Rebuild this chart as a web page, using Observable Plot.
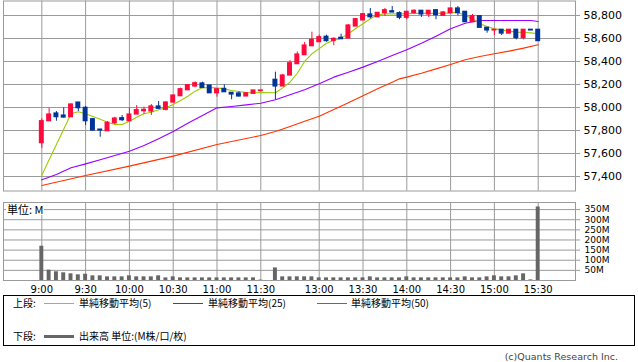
<!DOCTYPE html>
<html><head><meta charset="utf-8">
<script src="https://cdn.jsdelivr.net/npm/d3@7"></script>
<script src="https://cdn.jsdelivr.net/npm/@observablehq/plot@0.6"></script>
<style>
body{margin:0;background:#fff;font-family:"DejaVu Sans",sans-serif;}
#wrap{position:relative;width:638px;height:362px;overflow:hidden;background:#fff;}
#price{position:absolute;left:0;top:0;}
#vol{position:absolute;left:0;top:195px;}
#unit{position:absolute;left:6px;top:203px;font:11px "Noto Sans CJK JP","DejaVu Sans",sans-serif;line-height:12px;background:#fff;padding:0 1px;color:#000;}
#legend{position:absolute;left:3px;top:295px;width:630px;height:49px;border:1px solid #000;font:10px "Noto Sans CJK JP",sans-serif;color:#000;}
#legend span{position:absolute;line-height:14px;white-space:nowrap;}
#legend i{position:absolute;display:block;}
#copy{position:absolute;right:20px;top:351px;font:9.5px "DejaVu Sans",sans-serif;color:#444;white-space:nowrap;}
</style></head>
<body><div id="wrap">
<div id="price"></div>
<div id="vol"></div>
<div id="unit">単位: M</div>
<div id="legend"></div>
<div id="copy">(c)Quants Research Inc.</div>
</div>
<script>
// ---- data ----
const times = ["9:00","9:05","9:10","9:15","9:20","9:25","9:30","9:35","9:40","9:45","9:50","9:55",
"10:00","10:05","10:10","10:15","10:20","10:25","10:30","10:35","10:40","10:45","10:50","10:55",
"11:00","11:05","11:10","11:15","11:20","11:25","11:30",
"12:30","12:35","12:40","12:45","12:50","12:55","13:00","13:05","13:10","13:15","13:20","13:25",
"13:30","13:35","13:40","13:45","13:50","13:55","14:00","14:05","14:10","14:15","14:20","14:25",
"14:30","14:35","14:40","14:45","14:50","14:55","15:00","15:05","15:10","15:15","15:20","15:25","15:30"];
const open = [57690,57881,57948,57930,57916,58043,57997,57898,57808,57794,57863,57907,
57881,57939,57968,57965,58009,57980,58043,58098,58150,58183,58209,58191,
58124,58162,58128,58122,58096,58119,58142,
58241,58183,58278,58377,58455,58533,58568,58615,58580,58606,58600,58704,
58757,58809,58785,58820,58837,58820,58780,58820,58841,58809,58846,58797,
58820,58861,58832,58742,58794,58693,58670,58676,58643,58676,58603,58676,58676];
const high = [57902,57994,57965,57997,58032,58043,58009,57905,57808,57878,57916,57930,
57997,58017,58003,58026,58052,58052,58110,58168,58200,58223,58220,58191,
58159,58197,58128,58136,58124,58148,58148,
58307,58287,58408,58483,58565,58655,58629,58629,58606,58637,58720,58774,
58815,58861,58823,58861,58878,58832,58832,58849,58841,58841,58846,58835,
58861,58878,58832,58809,58794,58693,58676,58676,58676,58676,58676,58676,58676];
const low = [57646,57881,57881,57907,57916,57965,57843,57795,57742,57794,57852,57878,
57881,57939,57939,57930,57989,57970,58043,58098,58150,58171,58171,58124,
58090,58133,58067,58090,58096,58119,58142,
58067,58183,58278,58377,58455,58533,58568,58568,58537,58594,58600,58704,
58757,58771,58785,58791,58826,58763,58763,58812,58783,58783,58763,58797,
58820,58797,58742,58742,58693,58646,58623,58626,58643,58588,58588,58670,58577];
const close = [57881,57939,57916,57913,58026,57994,57881,57800,57800,57867,57904,57890,
57939,57977,57980,58009,57989,58043,58104,58159,58194,58211,58171,58124,
58159,58133,58113,58096,58124,58148,58148,
58183,58278,58385,58461,58539,58589,58611,58577,58597,58594,58713,58768,
58811,58785,58823,58846,58826,58780,58832,58841,58809,58841,58803,58826,
58861,58820,58742,58794,58693,58670,58676,58643,58676,58603,58676,58670,58577];
const volume = [169,51,43,38,33,28,31,23,23,18,18,18,
23,18,18,18,23,13,18,13,13,13,13,13,
13,13,13,13,13,13,2,
62,18,18,18,18,18,13,13,13,13,13,13,
13,18,13,13,13,13,18,13,13,13,13,13,
13,13,18,13,13,18,23,18,18,23,33,3,363];
const ma5 = [57411,57545,57678,57811,57945,57963,57945,57922,57898,57872,57852,57852,
57881,57916,57945,57959,57980,57997,58026,58061,58098,58142,58171,58174,
58171,58162,58148,58139,58130,58128,58130,
58128,58171,58220,58298,58400,58467,58512,58559,58583,58603,58641,58687,
58728,58771,58806,58814,58814,58814,58816,58818,58818,58820,58818,58820,
58823,58829,58800,58771,58728,58704,58684,58675,58664,58655,58652,58649,58641];
const ma25Times = ["9:00","9:10","9:20","9:30","9:40","9:50","10:00","10:10","10:20","10:30","10:40","10:50",
"11:00","11:10","11:20","11:30","12:30","12:40","12:50","13:00","13:10","13:20","13:30","13:40",
"13:50","14:00","14:10","14:20","14:30","14:40","14:50","15:00","15:10","15:20","15:25","15:30"];
const ma25 = [57371,57417,57476,57510,57545,57583,57620,57670,57728,57791,57863,57930,
57997,58009,58023,58037,58067,58110,58154,58206,58264,58307,58351,58400,
58452,58502,58559,58620,58684,58733,58757,58757,58757,58757,58757,58748];
const ma50Times = ["9:00","9:30","10:00","10:30","11:00","11:30","12:30","12:40","12:50","13:00","13:10","13:20",
"13:30","13:40","13:50","13:55","14:00","14:10","14:20","14:30","14:40","14:50","15:00","15:10","15:20","15:30"];
const ma50 = [57322,57409,57490,57577,57678,57757,57791,57835,57881,57924,57983,58041,
58102,58162,58220,58249,58264,58298,58336,58374,58415,58443,58467,58490,58516,58545];
const xTickLabels = ["9:00","9:30","10:00","10:30","11:00","11:30","13:00","13:30","14:00","14:30","15:00","15:30"];
const priceTicks = [57400,57600,57800,58000,58200,58400,58600,58800];
const volTicks = [50,100,150,200,250,300,350];

// ---- helpers ----
const RED = "#ff0a3c", BLUE = "#003399";
function idx(t){const [h,m]=t.split(":").map(Number);const mm=h*60+m;return mm<=690?(mm-540)/5:(mm-750)/5+32;}
const candles = times.map((t,k)=>({i:idx(t),o:open[k],h:high[k],l:low[k],c:close[k],v:volume[k],col:close[k]>=open[k]?RED:BLUE}));
const ma5Data = times.map((t,k)=>({i:idx(t),v:ma5[k]}));
const ma25Data = ma25Times.map((t,k)=>({i:idx(t),v:ma25[k]}));
const ma50Data = ma50Times.map((t,k)=>({i:idx(t),v:ma50[k]}));
const xTicks = xTickLabels.map(idx);
const labelOf = new Map(xTicks.map((v,k)=>[v,xTickLabels[k]]));
const XD = [-5.25, 73.11];
const GRID = "#9a9a9a";

const price = Plot.plot({
  width:638, height:191, marginLeft:3, marginRight:63, marginTop:0.5, marginBottom:0.5,
  x:{domain:XD, axis:null, label:null},
  y:{domain:[57274,58926], axis:null, label:null},
  style:{fontFamily:"DejaVu Sans", fontSize:"11px", color:"#000", background:"#fff", overflow:"visible"},
  marks:[
    Plot.gridX(xTicks, {stroke:GRID, strokeOpacity:1}),
    Plot.gridY(priceTicks, {stroke:GRID, strokeOpacity:1}),
    Plot.frame({stroke:GRID}),
    Plot.axisY(priceTicks, {anchor:"right", label:null, tickSize:4, tickPadding:4, stroke:GRID, tickFormat:d3.format(","), fontSize:11}),
    Plot.line(ma50Data, {x:"i", y:"v", stroke:"#ff3300", strokeWidth:1.1}),
    Plot.line(ma25Data, {x:"i", y:"v", stroke:"#9a00ff", strokeWidth:1.1}),
    Plot.line(ma5Data, {x:"i", y:"v", stroke:"#99cc00", strokeWidth:1.1}),
    Plot.ruleX(candles, {x:"i", y1:"l", y2:"h", stroke:"col", strokeWidth:1}),
    Plot.rect(candles, {x1:d=>d.i-0.34, x2:d=>d.i+0.34, y1:"o", y2:"c", fill:"col", insetTop:-0.6, insetBottom:-0.6})
  ]
});
document.getElementById("price").append(price);

const vol = Plot.plot({
  width:638, height:100, marginLeft:3, marginRight:63, marginTop:7, marginBottom:15,
  x:{domain:XD, axis:null, label:null},
  y:{domain:[0,385], axis:null, label:null},
  style:{fontFamily:"DejaVu Sans", fontSize:"10px", color:"#000", background:"#fff", overflow:"visible"},
  marks:[
    Plot.gridX(xTicks, {stroke:GRID, strokeOpacity:1}),
    Plot.gridY(volTicks, {stroke:GRID, strokeOpacity:1}),
    Plot.rect(candles, {x1:d=>d.i-0.27, x2:d=>d.i+0.27, y1:0, y2:"v", fill:"#666"}),
    Plot.frame({stroke:GRID}),
    Plot.axisY(volTicks, {anchor:"right", label:null, tickSize:4, tickPadding:5, stroke:GRID, tickFormat:d=>d+"M", fontSize:9}),
    Plot.axisX(xTicks, {anchor:"bottom", label:null, tickSize:0, tickPadding:5, tickFormat:d=>labelOf.get(d), fontSize:10})
  ]
});
document.getElementById("vol").append(vol);

// ---- legend ----
const legendItems = [
  {type:"text", x:9, y:0, text:"上段:"},
  {type:"line", x:40, y:7, w:30, h:1, color:"#99cc00"},
  {type:"text", x:75, y:0, text:"単純移動平均(5)"},
  {type:"line", x:169, y:7, w:30, h:1, color:"#9a00ff"},
  {type:"text", x:204, y:0, text:"単純移動平均(25)"},
  {type:"line", x:313, y:7, w:30, h:1, color:"#ff3300"},
  {type:"text", x:347, y:0, text:"単純移動平均(50)"},
  {type:"text", x:9, y:33, text:"下段:"},
  {type:"line", x:40, y:39, w:30, h:3, color:"#666"},
  {type:"text", x:75, y:33, text:"出来高 単位:(M株/口/枚)"}
];
const lg = document.getElementById("legend");
for (const it of legendItems){
  if (it.type==="text"){const s=document.createElement("span");s.textContent=it.text;s.style.left=it.x+"px";s.style.top=it.y+"px";lg.append(s);}
  else {const l=document.createElement("i");l.style.left=it.x+"px";l.style.top=it.y+"px";l.style.width=it.w+"px";l.style.height=it.h+"px";l.style.background=it.color;lg.append(l);}
}
</script>
</body></html>
